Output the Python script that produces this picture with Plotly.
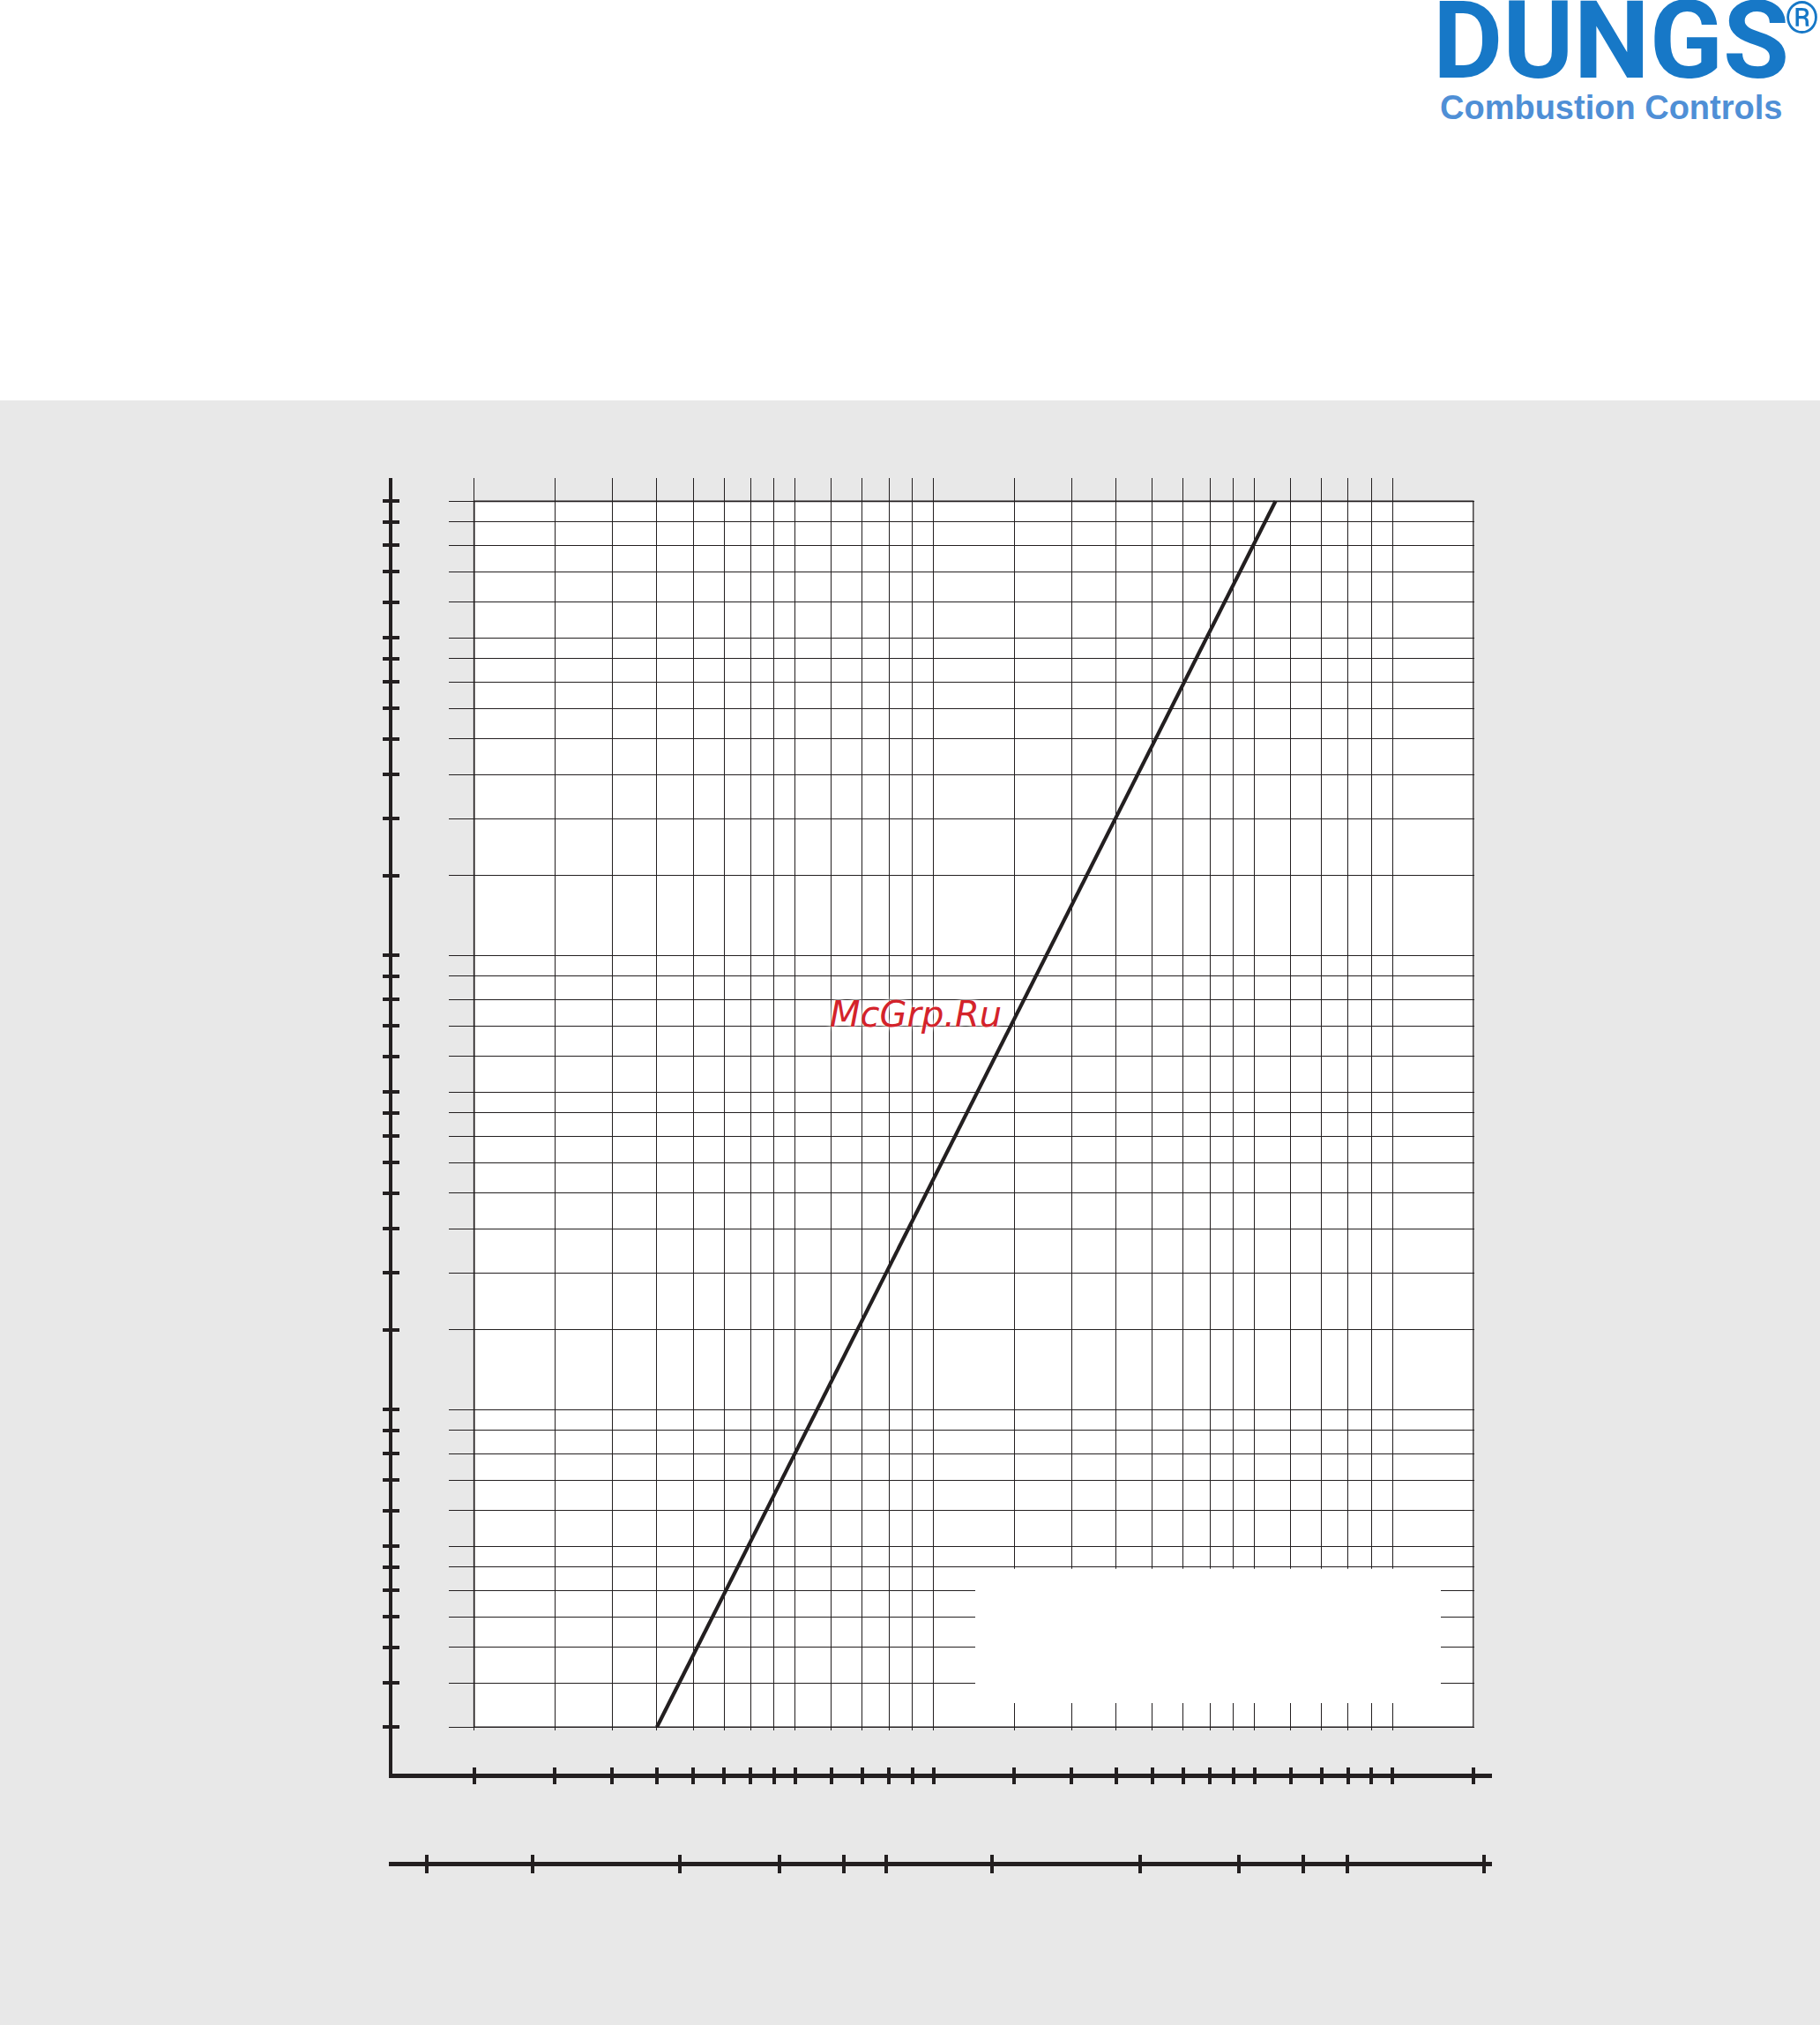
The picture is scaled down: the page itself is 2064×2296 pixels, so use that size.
import plotly.graph_objects as go

# ---------------- data ----------------
# grid / tick values of the flow axis (log scale, unlabeled)
flow_grid = [1, 1.5, 2, 2.5, 3, 3.5, 4, 4.5, 5, 6, 7, 8, 9,
             10, 15, 20, 25, 30, 35, 40, 45, 50, 60, 70, 80, 90, 100, 150]
# grid / tick values of the pressure-drop axis (log scale, unlabeled)
dp_grid = [0.02, 0.025, 0.03, 0.035, 0.04, 0.045, 0.05, 0.06, 0.07, 0.08, 0.09,
           0.1, 0.15, 0.2, 0.25, 0.3, 0.35, 0.4, 0.45, 0.5, 0.6, 0.7, 0.8, 0.9,
           1, 1.5, 2, 2.5, 3, 3.5, 4, 4.5, 5, 6, 7, 8, 9, 10]
# ticks of the second (converted) flow scale, expressed in flow-axis units
flow_scale2_ticks = [0.79, 1.34, 2.81, 4.62, 6.37, 7.9, 13.4, 28.2, 46.3, 64.0, 79.6, 158]
# characteristic curve (dp ~ Q^2)
curve_flow = [2.5, 55.6]
curve_dp = [0.02, 10]

# ---------------- geometry helpers (pixels -> paper / log units) ----------------
W, H = 2064, 2296
X1_PX, X_DEC = 537.7, 520.8     # pixel of flow = 1, pixels per decade
Y10_PX, Y_DEC = 568.3, 515.0    # pixel of dp = 10, pixels per decade


def xlog(px):
    return (px - X1_PX) / X_DEC


def ylog(py):
    return 1 - (py - Y10_PX) / Y_DEC


def fx(px):
    return px / W


def fy(py):
    return 1 - py / H


INK = "#231f20"
GRAY = "#e8e8e8"

fig = go.Figure()

fig.add_trace(go.Scatter(x=curve_flow, y=curve_dp, mode="lines",
                         line=dict(color=INK, width=4.2),
                         xaxis="x", yaxis="y", showlegend=False, hoverinfo="skip"))
# empty traces so that the decorative axes get their subplots
for xa, ya in [("x2", "y2"), ("x3", "y3"), ("x4", "y2"), ("x5", "y2")]:
    fig.add_trace(go.Scatter(x=[], y=[], xaxis=xa, yaxis=ya, showlegend=False,
                             hoverinfo="skip"))

common_grid = dict(type="log", tickmode="array", showticklabels=False, ticks="",
                   showline=False, zeroline=False, fixedrange=True,
                   gridcolor=INK, gridwidth=1.2, showgrid=True)

x2_range = [xlog(441), xlog(1691.7)]
y2_range = [ylog(2015.7), ylog(542)]

axis_style = dict(type="log", tickmode="array", showticklabels=False,
                  showgrid=False, zeroline=False, fixedrange=True,
                  tickcolor=INK, linecolor=INK)

fig.update_layout(
    width=W, height=H, autosize=False,
    margin=dict(l=0, r=0, t=0, b=0, pad=0),
    paper_bgcolor="white", plot_bgcolor="rgba(0,0,0,0)", showlegend=False,
    xaxis=dict(common_grid, tickvals=flow_grid,
               domain=[fx(509), fx(1671.5)], range=[xlog(509), xlog(1671.5)],
               anchor="y"),
    yaxis=dict(common_grid, tickvals=dp_grid,
               domain=[fy(1962), fy(542)], range=[ylog(1962), ylog(542)],
               anchor="x"),
    # main flow axis line (ticks crossing the line = outside + inside)
    xaxis2=dict(axis_style, tickvals=flow_grid, domain=[fx(441), fx(1691.7)],
                range=x2_range, anchor="free", position=fy(2013.3),
                showline=True, linewidth=4.6, ticks="outside", ticklen=7, tickwidth=4),
    xaxis3=dict(axis_style, tickvals=flow_grid, overlaying="x2", range=x2_range,
                anchor="free", position=fy(2013.3), showline=False,
                ticks="inside", ticklen=9, tickwidth=4),
    # second flow scale
    xaxis4=dict(axis_style, tickvals=flow_scale2_ticks, overlaying="x2", range=x2_range,
                anchor="free", position=fy(2113.3), showline=True, linewidth=4.6,
                ticks="outside", ticklen=8, tickwidth=4),
    xaxis5=dict(axis_style, tickvals=flow_scale2_ticks, overlaying="x2", range=x2_range,
                anchor="free", position=fy(2113.3), showline=False,
                ticks="inside", ticklen=10, tickwidth=4),
    # pressure axis line
    yaxis2=dict(axis_style, tickvals=dp_grid, domain=[fy(2015.7), fy(542)],
                range=y2_range, anchor="free", position=fx(443),
                showline=True, linewidth=4.2, ticks="outside", ticklen=7, tickwidth=4),
    yaxis3=dict(axis_style, tickvals=dp_grid, overlaying="y2", range=y2_range,
                anchor="free", position=fx(443), showline=False,
                ticks="inside", ticklen=9, tickwidth=4),
)

shapes = [
    # grey page background below the header
    dict(type="rect", xref="paper", yref="paper", x0=0, x1=1, y0=0, y1=fy(454),
         fillcolor=GRAY, line=dict(width=0), layer="below"),
    # white diagram field
    dict(type="rect", xref="x", yref="y", x0=flow_grid[0], x1=flow_grid[-1],
         y0=dp_grid[0], y1=dp_grid[-1], fillcolor="white",
         line=dict(color=INK, width=1.7), layer="below"),
    # white (empty) legend box covering the grid
    dict(type="rect", xref="x", yref="y",
         x0=10 ** xlog(1106), x1=10 ** xlog(1634),
         y0=10 ** ylog(1931), y1=10 ** ylog(1778.8),
         fillcolor="white", line=dict(width=0), layer="between"),
]
fig.update_layout(shapes=shapes)

annotations = [
    dict(text="<b>DUNGS</b>", xref="paper", yref="paper", x=fx(1623), y=fy(47),
         xanchor="left", yanchor="middle", showarrow=False,
         font=dict(family="Roboto", size=122, color="#1778c7")),
    dict(text="®", xref="paper", yref="paper", x=fx(2043), y=fy(20),
         xanchor="center", yanchor="middle", showarrow=False,
         font=dict(family="Roboto", size=50, color="#1778c7")),
    dict(text="<b>Combustion Controls</b>", xref="paper", yref="paper",
         x=fx(1631), y=fy(122), xanchor="left", yanchor="middle", showarrow=False,
         font=dict(family="Liberation Sans", size=38, color="#4f8fd6")),
    dict(text="McGrp.Ru", xref="paper", yref="paper", x=fx(1038), y=fy(1150),
         xanchor="center", yanchor="middle", showarrow=False,
         font=dict(family="DejaVu Sans", size=40, color="#d4232b", style="italic",
                   shadow="0px 0px 6px white, 0px 0px 6px white")),
]
fig.update_layout(annotations=annotations)

fig.write_html("out.html", config={"displayModeBar": False},
               post_script="document.body.style.margin='0';"
                           "document.body.style.overflow='hidden';")
